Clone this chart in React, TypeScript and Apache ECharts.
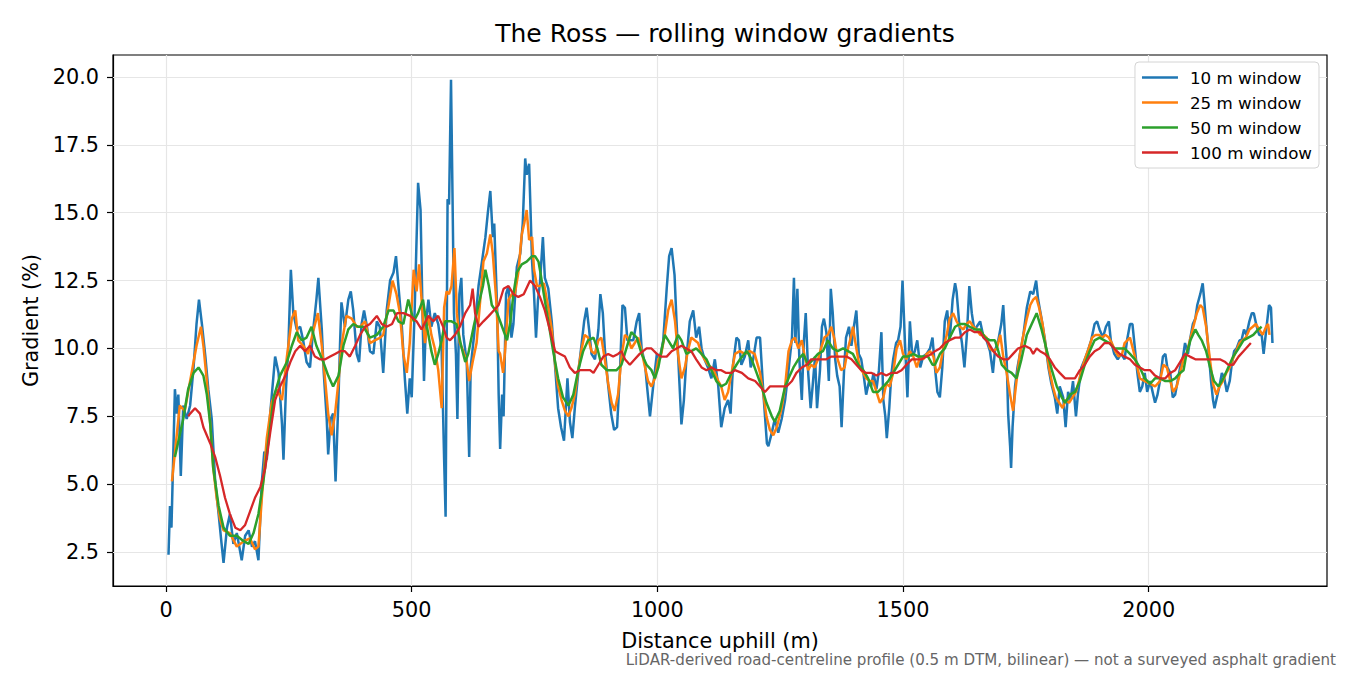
import { useEffect, useRef } from 'react'
import * as echarts from 'echarts'

const seriesNames = ['10 m window', '25 m window', '50 m window', '100 m window']
const seriesColors = ['#1f77b4', '#ff7f0e', '#2ca02c', '#d62728']
const seriesWidths = [2.5, 2.5, 2.5, 2.3]
const xTicks = [0, 500, 1000, 1500, 2000]
const yTicks = [2.5, 5, 7.5, 10, 12.5, 15, 17.5, 20]

// [distance uphill (m), gradient (%)]
const win10: [number, number][] = [
  [5, 2.4], [8, 4.2], [11, 3.4], [18, 8.5], [22, 7.6], [25, 8.3], [30, 5.3], [35, 7.9], [42, 7.4], [49, 7.9],
  [56, 9.3], [62, 10.9], [67, 11.8], [73, 10.9], [80, 9.7], [86, 8.5], [93, 7.4], [100, 5.1], [107, 3.9], [113, 2.8],
  [117, 2.1], [124, 3.4], [130, 3.9], [137, 2.8], [144, 3.2], [154, 2.2], [161, 3.1], [168, 3.3], [175, 2.7], [181, 2.9],
  [188, 2.2], [195, 5.1], [200, 6.2], [205, 5.9], [212, 7.6], [222, 9.7], [229, 9.1], [236, 7.2], [239, 5.9], [244, 8.5],
  [249, 10.1], [254, 12.9], [259, 11.3], [266, 10.7], [273, 10.8], [279, 10.3], [286, 9.5], [293, 9.3], [299, 10.6], [306, 11.8],
  [310, 12.6], [317, 10.7], [321, 9.1], [327, 7.4], [330, 6.1], [335, 7.4], [340, 7.6], [345, 5.1], [351, 8.2], [354, 10.1],
  [357, 11.7], [364, 10.8], [371, 11.8], [376, 12.1], [381, 11.4], [388, 9.8], [393, 9.5], [398, 10.9], [403, 11.4], [409, 10.8],
  [415, 9.9], [422, 9.8], [429, 11.0], [435, 10.8], [442, 9.1], [449, 11.4], [456, 12.5], [463, 12.8], [468, 13.4], [473, 12.3],
  [480, 10.8], [486, 8.9], [491, 7.6], [496, 8.9], [500, 8.2], [506, 11.4], [513, 16.1], [518, 15.1], [522, 11.3], [525, 8.8],
  [529, 11.0], [534, 11.8], [540, 10.8], [547, 11.3], [554, 10.9], [561, 9.9], [566, 5.9], [569, 3.8], [573, 15.5], [576, 15.3],
  [580, 19.9], [583, 15.7], [586, 11.3], [590, 9.8], [593, 7.4], [597, 12.0], [601, 12.6], [605, 10.5], [612, 9.5], [617, 6.0],
  [620, 9.3], [627, 10.5], [636, 12.3], [643, 13.2], [650, 14.1], [655, 15.0], [660, 15.8], [665, 14.1], [668, 14.6], [674, 11.4],
  [677, 8.3], [680, 6.3], [684, 8.3], [687, 7.5], [692, 12.0], [697, 12.3], [703, 10.4], [707, 10.9], [714, 13.0], [721, 13.5],
  [726, 14.6], [731, 17.0], [734, 16.4], [739, 16.8], [745, 13.2], [749, 12.0], [753, 10.4], [757, 11.8], [761, 12.4], [767, 14.1],
  [771, 12.6], [778, 12.2], [785, 11.0], [792, 9.3], [798, 7.8], [804, 7.1], [810, 6.6], [817, 8.9], [822, 7.3], [827, 6.7],
  [832, 7.8], [839, 9.1], [846, 10.2], [851, 11.0], [856, 11.5], [861, 10.7], [866, 9.8], [873, 9.6], [880, 10.7], [884, 12.0],
  [889, 11.3], [893, 10.0], [899, 8.8], [906, 7.6], [912, 7.0], [918, 7.1], [924, 9.2], [929, 11.6], [934, 11.5], [939, 10.3],
  [944, 10.3], [951, 10.3], [958, 11.0], [963, 11.3], [968, 10.0], [975, 9.4], [979, 8.6], [985, 7.5], [992, 8.7], [999, 9.8],
  [1005, 9.6], [1012, 10.3], [1019, 12.2], [1024, 13.4], [1029, 13.7], [1035, 12.7], [1039, 11.0], [1045, 8.7], [1049, 7.2], [1054, 8.1],
  [1059, 9.6], [1066, 11.0], [1073, 11.4], [1079, 10.4], [1085, 10.8], [1090, 10.0], [1096, 9.6], [1103, 9.3], [1110, 8.9], [1117, 9.6],
  [1124, 8.6], [1130, 7.1], [1137, 7.8], [1144, 8.1], [1149, 7.6], [1154, 9.4], [1161, 10.4], [1166, 10.3], [1171, 9.4], [1178, 9.7],
  [1185, 10.3], [1190, 9.3], [1195, 9.6], [1202, 10.4], [1209, 10.4], [1216, 8.3], [1223, 6.5], [1226, 6.4], [1233, 6.9], [1239, 7.4],
  [1246, 6.9], [1253, 7.4], [1260, 8.1], [1267, 9.2], [1274, 10.4], [1278, 12.6], [1281, 10.2], [1285, 12.2], [1289, 9.6], [1294, 8.1],
  [1298, 10.2], [1302, 11.3], [1307, 9.1], [1312, 7.8], [1316, 8.6], [1321, 9.7], [1325, 7.8], [1331, 9.2], [1335, 10.8], [1339, 11.1],
  [1344, 10.6], [1349, 8.8], [1353, 12.2], [1357, 11.3], [1362, 9.6], [1366, 9.0], [1371, 8.6], [1375, 7.1], [1380, 9.2], [1384, 10.4],
  [1390, 10.8], [1395, 10.1], [1400, 10.8], [1405, 11.4], [1410, 9.8], [1415, 9.6], [1420, 9.0], [1425, 8.3], [1431, 8.8], [1435, 8.6],
  [1440, 9.1], [1446, 8.5], [1451, 9.2], [1456, 10.6], [1460, 8.1], [1464, 7.5], [1467, 6.7], [1472, 7.8], [1476, 9.0], [1480, 9.6],
  [1486, 10.2], [1490, 10.3], [1495, 10.8], [1499, 12.5], [1504, 10.2], [1509, 8.2], [1514, 11.0], [1519, 9.7], [1524, 9.9], [1529, 10.3],
  [1535, 9.3], [1541, 9.7], [1548, 9.8], [1555, 10.0], [1560, 10.4], [1565, 9.3], [1570, 8.4], [1575, 8.2], [1580, 9.3], [1585, 11.0],
  [1590, 11.4], [1595, 10.3], [1601, 11.8], [1606, 12.4], [1609, 12.1], [1615, 10.8], [1620, 10.2], [1625, 9.3], [1630, 10.5], [1635, 12.3],
  [1640, 11.3], [1645, 10.7], [1650, 10.8], [1657, 11.0], [1664, 10.4], [1670, 10.3], [1677, 9.9], [1683, 9.1], [1687, 9.9], [1694, 10.3],
  [1700, 10.9], [1704, 11.6], [1708, 10.3], [1711, 9.6], [1714, 7.6], [1718, 6.4], [1720, 5.6], [1723, 7.1], [1728, 8.6], [1733, 9.3],
  [1738, 9.8], [1745, 10.5], [1752, 11.5], [1759, 12.1], [1765, 12.0], [1771, 12.5], [1775, 11.8], [1782, 11.1], [1789, 10.3], [1796, 9.3],
  [1802, 8.7], [1809, 8.2], [1814, 7.6], [1819, 8.6], [1826, 8.2], [1831, 7.1], [1836, 8.4], [1841, 8.1], [1846, 8.8], [1852, 7.5],
  [1856, 8.3], [1863, 9.3], [1870, 9.6], [1876, 9.9], [1883, 10.3], [1890, 10.9], [1895, 11.0], [1900, 10.7], [1907, 10.4], [1913, 10.8],
  [1919, 11.0], [1923, 10.3], [1930, 9.8], [1937, 9.6], [1944, 9.8], [1951, 9.6], [1956, 10.3], [1962, 10.9], [1967, 10.9], [1972, 10.0],
  [1977, 9.1], [1982, 8.4], [1987, 8.6], [1992, 9.1], [1997, 8.4], [2003, 8.8], [2008, 8.4], [2013, 8.0], [2018, 8.3], [2023, 8.8],
  [2029, 9.7], [2034, 9.8], [2038, 9.3], [2044, 9.1], [2049, 8.2], [2054, 8.3], [2059, 8.8], [2064, 9.3], [2070, 9.7], [2074, 10.2],
  [2080, 9.8], [2084, 10.3], [2090, 10.9], [2095, 11.1], [2099, 11.6], [2105, 12.0], [2110, 12.4], [2113, 11.8], [2117, 10.9], [2122, 9.9],
  [2127, 8.8], [2131, 8.1], [2134, 7.8], [2139, 8.2], [2144, 8.6], [2149, 9.1], [2154, 8.9], [2159, 8.4], [2165, 8.8], [2169, 9.4],
  [2174, 9.9], [2179, 10.0], [2185, 10.3], [2189, 10.3], [2194, 10.7], [2199, 10.5], [2205, 11.0], [2210, 11.3], [2214, 11.3], [2220, 10.8],
  [2225, 10.5], [2230, 10.5], [2234, 9.8], [2240, 10.8], [2245, 11.6], [2249, 11.5], [2252, 10.2],
]

const win25: [number, number][] = [
  [12, 5.1], [28, 7.9], [38, 7.7], [49, 8.8], [62, 10.1], [71, 10.8], [76, 10.1], [83, 8.8], [90, 7.2], [96, 5.6],
  [103, 4.5], [110, 3.7], [117, 3.3], [130, 3.2], [144, 2.7], [158, 2.9], [171, 3.0], [181, 2.6], [188, 2.7], [195, 4.5],
  [205, 6.7], [215, 8.0], [225, 8.5], [236, 8.1], [246, 9.7], [256, 11.1], [263, 11.4], [269, 10.3], [279, 10.1], [289, 9.8],
  [299, 10.6], [309, 11.3], [317, 10.1], [324, 8.8], [330, 7.6], [337, 6.8], [344, 7.6], [351, 8.8], [357, 10.1], [367, 11.2],
  [378, 11.1], [388, 10.8], [395, 10.8], [405, 11.0], [415, 10.2], [425, 10.3], [436, 10.4], [442, 10.5], [453, 11.6], [461, 12.5],
  [469, 12.0], [476, 11.3], [483, 9.8], [490, 9.1], [496, 10.2], [504, 12.9], [510, 12.1], [515, 13.1], [522, 11.3], [527, 10.2],
  [534, 11.2], [540, 10.5], [547, 10.0], [554, 9.2], [561, 7.8], [566, 11.5], [571, 12.1], [576, 12.0], [581, 12.3], [587, 13.7],
  [592, 11.3], [598, 10.2], [605, 9.9], [612, 9.5], [617, 8.8], [624, 9.5], [632, 10.2], [641, 12.1], [646, 13.2], [653, 13.5],
  [660, 14.2], [665, 13.5], [672, 11.8], [677, 9.9], [680, 9.8], [686, 9.1], [690, 9.9], [697, 11.8], [704, 12.0], [710, 12.0],
  [717, 12.8], [724, 14.2], [729, 14.6], [734, 15.1], [739, 14.0], [745, 14.1], [749, 12.9], [755, 12.3], [761, 12.3], [769, 12.4],
  [778, 11.5], [785, 10.7], [792, 9.4], [798, 8.6], [805, 8.1], [812, 7.7], [819, 7.5], [825, 7.8], [832, 8.3], [839, 9.2],
  [846, 10.0], [852, 10.5], [859, 10.4], [866, 9.9], [873, 9.8], [880, 10.3], [886, 10.4], [893, 9.6], [900, 8.7], [907, 8.0],
  [913, 7.7], [920, 8.3], [927, 9.7], [934, 10.5], [940, 10.4], [947, 10.0], [954, 10.2], [961, 10.4], [968, 9.9], [975, 9.3],
  [981, 8.8], [988, 8.6], [995, 8.9], [1002, 9.6], [1008, 9.8], [1015, 10.5], [1022, 11.4], [1029, 11.8], [1036, 11.0], [1042, 9.8],
  [1049, 8.9], [1056, 9.3], [1062, 9.9], [1069, 10.4], [1076, 10.3], [1083, 10.2], [1090, 9.8], [1096, 9.6], [1103, 9.4], [1110, 9.3],
  [1117, 9.1], [1124, 8.8], [1130, 8.6], [1137, 8.1], [1144, 8.4], [1151, 9.1], [1158, 9.8], [1168, 9.9], [1178, 9.8], [1188, 9.9],
  [1198, 9.8], [1209, 9.1], [1216, 8.3], [1222, 7.5], [1229, 7.0], [1236, 6.8], [1243, 7.1], [1253, 7.8], [1260, 8.6], [1267, 9.9],
  [1274, 10.3], [1280, 10.4], [1287, 10.0], [1294, 10.3], [1300, 9.7], [1307, 9.2], [1313, 9.4], [1320, 9.3], [1327, 9.6], [1333, 10.0],
  [1340, 10.4], [1347, 10.5], [1354, 10.8], [1361, 10.3], [1367, 9.6], [1374, 9.2], [1381, 9.3], [1388, 10.0], [1395, 10.5], [1398, 10.8],
  [1405, 10.0], [1412, 9.3], [1419, 9.1], [1425, 8.9], [1432, 8.8], [1439, 8.8], [1446, 8.4], [1453, 8.0], [1460, 8.2], [1466, 8.7],
  [1473, 8.6], [1480, 9.1], [1487, 10.0], [1494, 10.3], [1500, 9.8], [1507, 9.6], [1514, 9.9], [1521, 9.7], [1528, 9.3], [1535, 9.7],
  [1541, 9.6], [1548, 9.8], [1555, 9.9], [1562, 9.7], [1568, 9.1], [1575, 9.3], [1582, 10.0], [1589, 10.5], [1595, 11.1], [1602, 11.3],
  [1609, 11.0], [1616, 10.8], [1623, 10.7], [1629, 10.9], [1636, 11.0], [1643, 10.8], [1650, 10.7], [1657, 10.5], [1664, 10.5], [1670, 10.4],
  [1677, 10.0], [1684, 9.9], [1691, 10.0], [1698, 10.5], [1704, 9.7], [1711, 9.1], [1718, 8.3], [1724, 7.7], [1731, 8.8], [1738, 9.8],
  [1745, 10.5], [1752, 11.1], [1759, 11.6], [1765, 11.8], [1771, 11.9], [1777, 11.5], [1784, 10.9], [1791, 10.0], [1798, 9.2], [1805, 8.6],
  [1811, 8.2], [1818, 8.0], [1825, 7.8], [1831, 8.1], [1838, 8.0], [1845, 8.2], [1852, 8.4], [1858, 8.8], [1865, 9.3], [1872, 9.7],
  [1878, 10.0], [1885, 10.4], [1892, 10.5], [1899, 10.5], [1905, 10.4], [1912, 10.5], [1919, 10.4], [1925, 10.2], [1932, 9.9], [1939, 9.7],
  [1946, 9.8], [1951, 10.2], [1962, 10.4], [1972, 9.7], [1982, 8.9], [1992, 8.8], [2003, 8.7], [2013, 8.6], [2023, 8.8], [2030, 9.4],
  [2037, 9.3], [2044, 8.8], [2050, 8.4], [2057, 8.6], [2064, 9.1], [2071, 9.6], [2077, 9.8], [2084, 10.3], [2091, 10.8], [2098, 11.3],
  [2105, 11.6], [2110, 11.5], [2117, 10.8], [2124, 9.7], [2131, 8.7], [2138, 8.3], [2144, 8.6], [2151, 8.8], [2158, 9.1], [2165, 9.3],
  [2171, 9.6], [2178, 9.9], [2185, 10.2], [2191, 10.3], [2198, 10.4], [2205, 10.7], [2212, 10.8], [2218, 10.9], [2225, 10.7], [2232, 10.5],
  [2239, 10.8], [2243, 10.9], [2246, 10.5],
]

const win50: [number, number][] = [
  [18, 6.0], [35, 7.4], [45, 8.5], [56, 9.1], [66, 9.3], [76, 9.0], [83, 8.3], [90, 7.2], [96, 5.6], [107, 4.2],
  [117, 3.4], [130, 3.1], [144, 3.1], [158, 2.9], [168, 2.8], [178, 3.2], [188, 3.9], [198, 5.1], [209, 6.7], [219, 8.2],
  [232, 9.0], [246, 9.5], [256, 10.1], [266, 10.6], [276, 10.3], [286, 10.4], [296, 10.8], [306, 10.1], [320, 9.5], [330, 9.0],
  [340, 8.6], [351, 9.0], [361, 10.1], [371, 10.7], [381, 10.9], [391, 10.8], [402, 10.8], [415, 10.4], [429, 10.5], [442, 10.8],
  [453, 11.4], [463, 11.4], [473, 11.0], [483, 10.9], [493, 11.8], [504, 11.0], [513, 11.3], [523, 11.8], [531, 10.8], [540, 9.9],
  [547, 9.4], [554, 9.8], [561, 10.3], [568, 11.0], [574, 11.0], [581, 11.0], [591, 10.9], [602, 10.0], [609, 9.5], [615, 9.8],
  [626, 10.8], [636, 11.6], [645, 12.3], [650, 12.9], [657, 12.3], [663, 11.6], [674, 11.3], [684, 10.8], [694, 10.3], [701, 11.0],
  [707, 12.0], [714, 12.8], [724, 13.1], [734, 13.2], [745, 13.4], [751, 13.4], [758, 13.2], [762, 12.8], [768, 12.1], [778, 11.0],
  [788, 9.9], [798, 8.9], [808, 8.2], [819, 7.9], [829, 8.3], [839, 9.2], [849, 9.9], [859, 10.3], [870, 10.4], [878, 10.0],
  [886, 9.4], [897, 9.2], [907, 9.2], [917, 9.2], [927, 9.4], [937, 10.0], [947, 10.6], [958, 10.4], [968, 9.8], [978, 9.4],
  [988, 9.2], [995, 8.9], [1002, 9.3], [1008, 9.9], [1015, 10.5], [1022, 10.3], [1032, 10.0], [1042, 10.5], [1049, 10.3], [1059, 9.8],
  [1069, 9.9], [1079, 10.0], [1090, 9.8], [1100, 9.6], [1110, 9.2], [1120, 8.8], [1130, 8.6], [1140, 8.7], [1151, 9.1], [1161, 9.4],
  [1168, 9.6], [1182, 9.9], [1192, 9.6], [1202, 9.1], [1212, 8.6], [1222, 8.0], [1233, 7.5], [1239, 7.3], [1249, 7.7], [1260, 8.6],
  [1267, 8.9], [1277, 9.3], [1287, 9.6], [1297, 9.8], [1307, 9.4], [1317, 9.6], [1327, 9.8], [1337, 9.9], [1347, 10.3], [1357, 10.0],
  [1367, 9.9], [1378, 10.0], [1388, 9.9], [1398, 9.8], [1409, 9.4], [1419, 9.2], [1429, 8.9], [1439, 8.4], [1449, 8.4], [1460, 8.6],
  [1470, 8.8], [1480, 9.1], [1490, 9.4], [1500, 9.7], [1510, 9.7], [1521, 9.8], [1531, 9.7], [1541, 9.7], [1551, 9.7], [1560, 9.4],
  [1565, 9.4], [1575, 9.8], [1585, 10.0], [1595, 10.4], [1606, 10.8], [1616, 10.9], [1626, 10.9], [1636, 10.8], [1646, 10.7], [1657, 10.7],
  [1667, 10.4], [1677, 10.3], [1687, 10.3], [1694, 9.9], [1701, 9.4], [1711, 9.2], [1721, 9.1], [1731, 8.9], [1741, 9.6], [1752, 10.5],
  [1762, 10.9], [1772, 11.3], [1782, 10.7], [1793, 9.9], [1803, 9.2], [1813, 8.6], [1823, 8.2], [1830, 8.0], [1840, 8.3], [1850, 8.4],
  [1860, 8.8], [1870, 9.4], [1880, 9.9], [1890, 10.3], [1900, 10.4], [1910, 10.3], [1920, 10.2], [1930, 10.0], [1941, 10.0], [1951, 10.0],
  [1962, 9.8], [1972, 9.6], [1982, 9.3], [1992, 8.9], [2003, 8.7], [2013, 8.9], [2023, 8.9], [2034, 8.8], [2044, 8.8], [2054, 8.9],
  [2064, 9.1], [2071, 9.2], [2077, 9.8], [2085, 10.3], [2095, 10.7], [2101, 10.5], [2108, 10.3], [2117, 9.9], [2125, 9.3], [2133, 8.8],
  [2142, 8.6], [2152, 8.9], [2162, 9.3], [2172, 9.7], [2183, 10.0], [2193, 10.3], [2203, 10.4], [2213, 10.5], [2223, 10.7], [2230, 10.8],
]

const win100: [number, number][] = [
  [45, 7.5], [49, 7.6], [59, 7.8], [69, 7.6], [76, 7.1], [90, 6.5], [100, 6.0], [110, 5.3], [120, 4.5], [130, 3.9],
  [141, 3.4], [151, 3.3], [161, 3.5], [171, 4.0], [181, 4.5], [192, 4.9], [202, 5.6], [212, 6.9], [222, 8.1], [232, 8.6],
  [243, 9.0], [253, 9.5], [263, 9.9], [273, 10.1], [283, 9.9], [293, 10.1], [303, 9.7], [313, 9.6], [324, 9.6], [334, 9.7],
  [344, 9.8], [354, 9.9], [364, 9.9], [374, 9.7], [385, 10.1], [395, 10.5], [405, 10.8], [415, 10.9], [429, 11.2], [439, 10.9],
  [449, 10.8], [460, 10.9], [470, 11.3], [483, 11.3], [497, 11.2], [510, 11.0], [520, 10.7], [534, 11.2], [544, 11.0], [554, 11.2],
  [564, 10.8], [571, 10.4], [578, 10.3], [588, 10.5], [598, 10.8], [609, 11.3], [619, 11.6], [624, 12.2], [629, 11.3], [636, 10.8],
  [646, 11.0], [657, 11.2], [667, 11.4], [677, 11.6], [687, 12.2], [697, 12.3], [707, 12.0], [717, 11.9], [728, 12.0], [741, 12.5],
  [751, 12.3], [761, 11.9], [771, 11.4], [781, 10.7], [792, 9.9], [802, 9.8], [812, 9.7], [822, 9.3], [832, 9.1], [842, 9.2],
  [852, 9.2], [863, 9.2], [870, 9.1], [880, 9.4], [890, 9.7], [900, 9.8], [910, 9.7], [920, 9.8], [927, 9.9], [934, 9.6],
  [944, 9.4], [954, 9.6], [964, 9.8], [978, 10.0], [988, 10.0], [999, 9.8], [1008, 9.7], [1019, 9.7], [1029, 9.9], [1039, 10.0],
  [1049, 10.1], [1059, 10.0], [1069, 9.9], [1079, 9.6], [1090, 9.3], [1100, 9.2], [1110, 9.3], [1120, 9.2], [1130, 9.2], [1140, 9.1],
  [1151, 9.1], [1158, 9.2], [1172, 9.1], [1185, 8.9], [1199, 8.8], [1209, 8.6], [1219, 8.4], [1229, 8.6], [1239, 8.6], [1253, 8.6],
  [1263, 8.6], [1274, 8.8], [1283, 9.1], [1294, 9.3], [1304, 9.4], [1313, 9.6], [1323, 9.6], [1333, 9.6], [1344, 9.6], [1354, 9.7],
  [1364, 9.7], [1374, 9.7], [1385, 9.7], [1395, 9.6], [1405, 9.4], [1415, 9.2], [1425, 9.1], [1436, 9.1], [1446, 9.0], [1456, 9.1],
  [1466, 9.0], [1476, 9.1], [1487, 9.1], [1497, 9.2], [1507, 9.4], [1518, 9.6], [1528, 9.6], [1538, 9.6], [1548, 9.7], [1558, 9.8],
  [1565, 9.9], [1575, 10.0], [1585, 10.2], [1595, 10.3], [1606, 10.4], [1616, 10.4], [1626, 10.6], [1636, 10.7], [1646, 10.6], [1657, 10.6],
  [1664, 10.4], [1674, 10.2], [1684, 9.9], [1694, 9.7], [1704, 9.6], [1714, 9.6], [1724, 9.8], [1734, 10.0], [1748, 10.1], [1759, 10.0],
  [1765, 9.8], [1772, 10.0], [1779, 9.9], [1789, 9.8], [1799, 9.6], [1809, 9.3], [1819, 9.1], [1830, 8.9], [1840, 8.9], [1850, 8.9],
  [1860, 9.2], [1870, 9.4], [1880, 9.7], [1890, 9.9], [1900, 10.0], [1910, 10.2], [1920, 10.2], [1930, 10.0], [1941, 9.8], [1951, 9.7],
  [1962, 9.6], [1972, 9.4], [1982, 9.3], [1992, 9.2], [2003, 9.2], [2013, 9.0], [2023, 8.9], [2034, 8.9], [2044, 9.1], [2054, 9.2],
  [2064, 9.5], [2074, 9.8], [2084, 9.7], [2095, 9.6], [2105, 9.6], [2115, 9.6], [2125, 9.6], [2135, 9.6], [2145, 9.6], [2156, 9.5],
  [2162, 9.4], [2172, 9.4], [2183, 9.7], [2193, 9.9], [2203, 10.1], [2208, 10.2],
]

const allSeries = [win10, win25, win50, win100]

export default function App() {
  const chartRef = useRef<HTMLDivElement>(null)

  useEffect(() => {
    if (!chartRef.current) return
    const chart = echarts.init(chartRef.current, null, { renderer: 'svg' })
    const font = 'DejaVu Sans'

    // matplotlib-style grid lines drawn under the data
    const gridLines = [
      ...xTicks.map(v => ({ xAxis: v })),
      ...yTicks.map(v => ({ yAxis: v })),
    ]

    chart.setOption({
      animation: false,
      backgroundColor: '#ffffff',
      textStyle: { fontFamily: font },
      title: {
        text: 'The Ross — rolling window gradients',
        left: 720,
        top: 16,
        textAlign: 'center',
        textStyle: { fontSize: 25, fontWeight: 'normal', color: '#000', fontFamily: font },
      },
      grid: {
        left: 113,
        right: 23,
        top: 55,
        bottom: 89,
        show: true,
        borderColor: '#000',
        borderWidth: 1.2,
        backgroundColor: 'transparent',
      },
      legend: {
        data: seriesNames,
        orient: 'vertical',
        right: 31,
        top: 62,
        icon: 'rect',
        itemWidth: 36,
        itemHeight: 2.6,
        itemGap: 8,
        padding: [7, 7, 7, 7],
        backgroundColor: '#fff',
        borderColor: '#d4d4d4',
        borderWidth: 1,
        borderRadius: 4,
        textStyle: { fontSize: 16.7, color: '#000', fontFamily: font, padding: [0, 0, 0, 7] },
      },
      xAxis: {
        type: 'value',
        min: -108,
        max: 2363,
        name: 'Distance uphill (m)',
        nameLocation: 'middle',
        nameGap: 44,
        nameTextStyle: { fontSize: 20.8, color: '#000', fontFamily: font },
        axisLine: { show: true, onZero: false, lineStyle: { color: '#000', width: 1.2 } },
        axisTick: { show: true, length: 6, customValues: xTicks, lineStyle: { color: '#000', width: 1.2 } },
        axisLabel: {
          customValues: xTicks,
          fontSize: 20.8,
          color: '#000',
          margin: 13,
          fontFamily: font,
          formatter: (v: number) => String(v),
        },
        splitLine: { show: false },
      },
      yAxis: {
        type: 'value',
        min: 1.25,
        max: 20.81,
        name: 'Gradient (%)',
        nameLocation: 'middle',
        nameGap: 69,
        nameTextStyle: { fontSize: 20.8, color: '#000', fontFamily: font },
        axisLine: { show: true, onZero: false, lineStyle: { color: '#000', width: 1.2 } },
        axisTick: { show: true, length: 6, customValues: yTicks, lineStyle: { color: '#000', width: 1.2 } },
        axisLabel: {
          customValues: yTicks,
          fontSize: 20.8,
          color: '#000',
          margin: 14,
          fontFamily: font,
          formatter: (v: number) => v.toFixed(1),
        },
        splitLine: { show: false },
      },
      graphic: [
        {
          type: 'text',
          right: 14,
          top: 652,
          style: {
            text: 'LiDAR-derived road-centreline profile (0.5 m DTM, bilinear) — not a surveyed asphalt gradient',
            fontSize: 15.1,
            fill: '#666666',
            fontFamily: font,
          },
        },
      ],
      series: allSeries.map((data, i) => ({
        name: seriesNames[i],
        type: 'line',
        data,
        symbol: 'none',
        showSymbol: false,
        z: 3 + i,
        lineStyle: { color: seriesColors[i], width: seriesWidths[i] },
        itemStyle: { color: seriesColors[i] },
        ...(i === 0
          ? {
              markLine: {
                silent: true,
                z: 1,
                symbol: ['none', 'none'],
                label: { show: false },
                lineStyle: { color: '#e6e6e6', width: 1.2, type: 'solid' },
                data: gridLines,
              },
            }
          : {}),
      })),
    })

    return () => {
      chart.dispose()
    }
  }, [])

  return (
    <div
      ref={chartRef}
      style={{ position: 'absolute', left: 0, top: 0, width: '1350px', height: '675px' }}
    />
  )
}
